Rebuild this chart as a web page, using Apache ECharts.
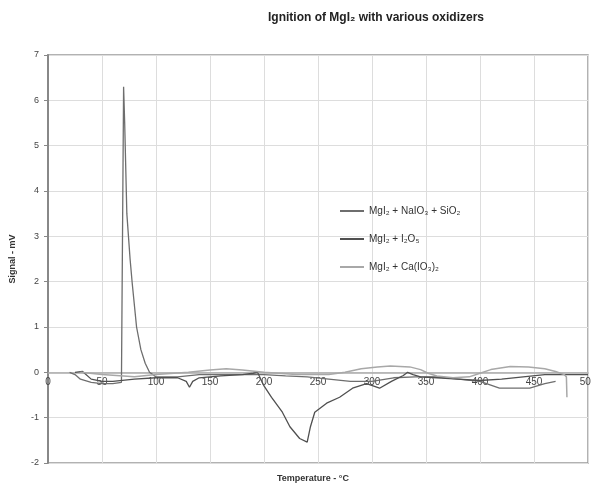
<!DOCTYPE html>
<html><head><meta charset="utf-8">
<script src="https://cdn.jsdelivr.net/npm/echarts@6/dist/echarts.min.js"></script>
<style>html,body{margin:0;padding:0;background:#fff}#c{width:591px;height:489px}</style>
</head><body><div id="c"></div>
<script>
const titleText = 'Ignition of MgI₂ with various oxidizers';
const xAxisTitle = 'Temperature - °C';
const yAxisTitle = 'Signal - mV';
const seriesNames = ['MgI₂ + NaIO₃ + SiO₂', 'MgI₂ + I₂O₅', 'MgI₂ + Ca(IO₃)₂'];
const seriesColors = ['#6e6e6e', '#505050', '#a8a8a8'];
// [temperature °C, signal mV]
const naio3 = [[20,0],[25,-0.05],[30,-0.15],[40,-0.22],[50,-0.25],[60,-0.25],[68,-0.22],[69.5,-0.2],[70,6.3],[71,5.5],[73,3.5],[76,2.5],[78,1.96],[82,1.0],[86,0.5],[90,0.2],[94,0],[100,-0.1],[120,-0.1],[140,-0.05],[160,-0.05],[180,-0.05],[200,-0.05],[220,-0.08],[240,-0.1],[260,-0.15],[280,-0.2],[300,-0.2],[320,-0.12],[340,-0.1],[360,-0.1],[380,-0.15],[400,-0.2],[418,-0.35],[446,-0.35],[460,-0.25],[470,-0.2]];
const i2o5 = [[25,0],[32,0.02],[40,-0.15],[50,-0.2],[60,-0.2],[80,-0.15],[100,-0.12],[120,-0.12],[128,-0.2],[131,-0.33],[134,-0.2],[140,-0.12],[160,-0.08],[180,-0.05],[190,-0.02],[194,0],[200,-0.3],[207,-0.55],[217,-0.88],[224,-1.2],[233,-1.46],[240,-1.54],[243,-1.2],[247,-0.88],[258,-0.68],[270,-0.55],[282,-0.35],[295,-0.25],[307,-0.35],[318,-0.2],[329,-0.07],[333,0],[338,-0.05],[345,-0.1],[360,-0.12],[380,-0.15],[400,-0.18],[420,-0.15],[440,-0.1],[460,-0.05],[480,-0.05],[500,-0.05]];
const caio3 = [[30,0],[50,-0.05],[80,-0.1],[100,-0.05],[130,0],[150,0.05],[165,0.08],[180,0.05],[200,0],[230,-0.05],[260,-0.05],[275,0],[290,0.08],[305,0.12],[317,0.14],[335,0.12],[345,0.06],[352,-0.02],[360,-0.08],[375,-0.12],[390,-0.1],[400,-0.02],[410,0.06],[428,0.13],[445,0.12],[460,0.08],[470,0.02],[478,-0.05],[480,-0.1],[480.5,-0.55]];
const yTicksMin = -2, yTicksMax = 7, xMin = 0, xMax = 500;

const font = 'Liberation Sans, Arial, sans-serif';
const gridTop = 55, gridBottom = 26, H = 489;
const plotH = H - gridTop - gridBottom;
// x axis crosses the value axis at 0
const xAxisOffset = -((0 - yTicksMin) / (yTicksMax - yTicksMin)) * plotH;
const chart = echarts.init(document.getElementById('c'), null, {renderer:'canvas'});
chart.setOption({
  animation:false,
  backgroundColor:'#fff',
  title:{text:titleText,left:371,textAlign:'center',top:7,textStyle:{fontFamily:font,fontSize:12,fontWeight:'bold',color:'#222'}},
  grid:{left:48,right:3,top:gridTop,bottom:gridBottom,containLabel:false,outerBoundsMode:'none',show:true,borderColor:'#999',borderWidth:1.5,backgroundColor:'#fff'},
  legend:{orient:'vertical',left:335,top:201,itemGap:18,itemWidth:24,itemHeight:2,icon:'rect',
    textStyle:{fontFamily:font,fontSize:10,color:'#333'},
    data:seriesNames},
  graphic:[
    {type:'text',top:474,left:277,style:{text:xAxisTitle,font:'bold 9px '+font,fill:'#333'}},
    {type:'text',x:13,y:259,rotation:Math.PI/2,style:{text:yAxisTitle,font:'bold 9px '+font,fill:'#333',align:'center',verticalAlign:'middle'}}
  ],
  xAxis:{type:'value',min:xMin,max:xMax,interval:50,position:'bottom',offset:xAxisOffset,
    axisLine:{onZero:false,lineStyle:{color:'#aaa',width:1.5}},
    axisTick:{show:false},
    axisLabel:{fontFamily:font,fontSize:10,color:'#444',margin:5},
    splitLine:{show:true,lineStyle:{color:'#ddd',width:1}}},
  yAxis:{type:'value',min:yTicksMin,max:yTicksMax,interval:1,
    axisLine:{show:true,lineStyle:{color:'#888',width:2}},
    axisTick:{show:true,length:4,lineStyle:{color:'#888'}},
    axisLabel:{fontFamily:font,fontSize:9,color:'#444',margin:9},
    splitLine:{show:true,lineStyle:{color:'#ddd',width:1}}},
  series:[
    {name:seriesNames[0],type:'line',data:naio3,showSymbol:false,lineStyle:{color:seriesColors[0],width:1.3},itemStyle:{color:seriesColors[0]}},
    {name:seriesNames[1],type:'line',data:i2o5,showSymbol:false,lineStyle:{color:seriesColors[1],width:1.3},itemStyle:{color:seriesColors[1]}},
    {name:seriesNames[2],type:'line',data:caio3,showSymbol:false,lineStyle:{color:seriesColors[2],width:1.5},itemStyle:{color:seriesColors[2]}}
  ]
});
</script></body></html>
